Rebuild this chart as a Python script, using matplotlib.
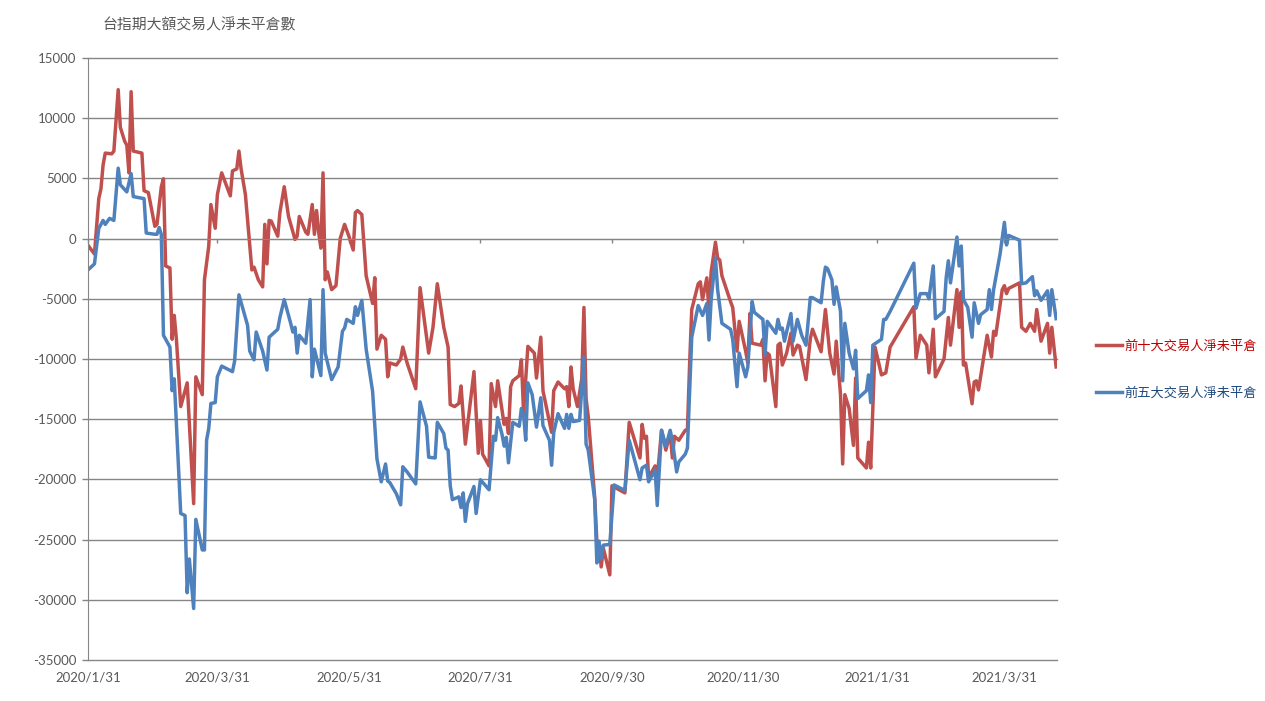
import numpy as np
import matplotlib
matplotlib.use('Agg')
import matplotlib.pyplot as plt
import matplotlib.dates as mdates

# 台指期 大額交易人 淨未平倉 (口)
title = '台指期大額交易人淨未平倉數'
red_label = '前十大交易人淨未平倉'
blue_label = '前五大交易人淨未平倉'

# x data: days after the first date
start = '2020-01-31'
x_tick_labels = ['2020/1/31', '2020/3/31', '2020/5/31', '2020/7/31',
                 '2020/9/30', '2020/11/30', '2021/1/31', '2021/3/31']
x_tick_dates = ['2020-01-31', '2020-03-31', '2020-05-31', '2020-07-31',
                '2020-09-30', '2020-11-30', '2021-01-31', '2021-03-31']
y_ticks = [15000, 10000, 5000, 0, -5000, -10000, -15000, -20000, -25000, -30000, -35000]

red_day = [0, 3, 5, 6, 7, 8, 11, 12, 14, 15, 17, 18, 19, 20, 21, 25, 26, 28, 31, 32,
           34, 35, 36, 38, 39, 40, 41, 43, 46, 49, 50, 53, 54, 56, 57, 59, 60, 62, 66, 67,
           69, 70, 71, 73, 75, 76, 77, 79, 81, 82, 83, 84, 85, 88, 89, 91, 93, 96, 97, 98,
           101, 102, 104, 105, 106, 107, 108, 109, 110, 111, 113, 115, 117, 119, 121, 123, 124, 125, 127, 129,
           132, 133, 134, 136, 138, 139, 140, 143, 145, 146, 148, 152, 154, 158, 160, 162, 165, 167, 168, 170,
           172, 173, 175, 179, 181, 182, 183, 186, 187, 189, 190, 193, 194, 195, 196, 197, 200, 201, 202, 204,
           207, 208, 210, 211, 215, 216, 218, 221, 222, 223, 224, 225, 227, 229, 230, 231, 232, 235, 236, 237,
           238, 239, 242, 243, 249, 251, 256, 257, 258, 259, 260, 263, 264, 266, 268, 270, 271, 272, 274, 277,
           278, 279, 280, 283, 284, 285, 287, 288, 289, 291, 292, 293, 294, 298, 299, 301, 302, 305, 306, 307,
           308, 312, 313, 314, 315, 316, 319, 320, 321, 322, 324, 326, 327, 329, 330, 333, 335, 336, 340, 342,
           344, 346, 347, 349, 350, 351, 353, 355, 356, 357, 361, 362, 363, 365, 368, 370, 372, 383, 384, 386,
           389, 390, 392, 393, 397, 399, 400, 403, 404, 405, 406, 407, 410, 411, 412, 413, 417, 419, 420, 421,
           424, 425, 426, 427, 432, 433, 435, 437, 439, 440, 442, 445, 446, 447, 449]
red_val = [-560, -1280, 3320, 4140, 6120, 7100, 7040, 7270, 12370, 9240, 8090, 7760, 5460, 12200, 7270, 7100, 3980, 3820, 1020, 1180,
           4310, 4970, -2270, -2440, -8360, -6380, -8360, -13950, -11980, -22010, -11480, -12960, -3420, -630, 2830, 860, 3650, 5460, 3550, 5620,
           5790, 7270, 5790, 3650, -460, -2600, -2370, -3420, -4010, 1180, -2100, 1510, 1450, 200, 2170, 4310, 1840, -70, 200, 1840,
           530, 360, 2830, 360, 2330, 500, -790, 5460, -3420, -2770, -4240, -3910, 30, 1180, 200, -950, 2170, 2330, 2000, -3090,
           -5390, -3250, -9180, -8030, -8360, -11480, -10330, -10500, -10000, -9010, -10330, -12470, -4080, -9510, -7370, -3750, -7370, -9010, -13780, -13950,
           -13690, -12240, -17070, -11050, -17830, -15100, -17900, -18880, -12040, -13950, -11810, -15430, -14940, -16190, -12300, -11810, -11380, -10070, -14440, -8950,
           -9510, -11580, -8190, -12630, -16090, -12630, -11910, -12470, -12300, -13950, -10660, -12470, -13950, -11640, -5720, -13290, -14770, -21510, -25130, -25300,
           -27270, -25720, -27930, -20530, -21120, -15260, -18220, -15430, -16580, -16420, -19870, -18880, -19900, -15920, -17570, -16090, -18220, -16420, -16750, -15920,
           -15920, -10500, -5890, -3750, -3590, -5070, -3260, -6050, -2770, -300, -1610, -1780, -3090, -5230, -5720, -9340, -6870, -9340, -10330, -6220,
           -8690, -8850, -8360, -11810, -9510, -9670, -13950, -8850, -8690, -10500, -9510, -7860, -9670, -8850, -8950, -11710, -8300, -7530, -9400, -5890,
           -9510, -11250, -8520, -12960, -18720, -12960, -14110, -17170, -11580, -18220, -19050, -16910, -19050, -9010, -11320, -11150, -9010, -5660, -9930, -8030,
           -8850, -11150, -7530, -11480, -10000, -6550, -8850, -4240, -7370, -4410, -10500, -10330, -13720, -11910, -11810, -12570, -8030, -9840, -7700, -8030,
           -4240, -3910, -4570, -4140, -3680, -7370, -7700, -7040, -7700, -5890, -8520, -7040, -9510, -7370, -10660]

blue_day = [0, 3, 5, 7, 8, 10, 12, 14, 15, 18, 20, 21, 24, 26, 27, 31, 32, 33, 34, 35,
            38, 39, 40, 43, 45, 46, 47, 49, 50, 53, 54, 55, 56, 57, 59, 60, 62, 67, 68, 70,
            74, 75, 77, 78, 81, 83, 84, 88, 89, 91, 94, 95, 96, 97, 98, 101, 103, 104, 105, 108,
            109, 110, 113, 116, 118, 119, 120, 123, 124, 125, 127, 129, 132, 134, 136, 138, 139, 140, 143, 145,
            146, 148, 152, 154, 157, 158, 161, 162, 165, 166, 167, 168, 169, 172, 173, 174, 175, 176, 179, 180,
            182, 186, 188, 189, 190, 192, 193, 194, 195, 197, 200, 201, 202, 203, 204, 206, 208, 210, 211, 214,
            215, 216, 218, 221, 222, 223, 224, 225, 228, 230, 231, 232, 235, 236, 237, 238, 239, 242, 244, 249,
            251, 256, 257, 259, 260, 263, 264, 266, 268, 270, 271, 273, 274, 277, 278, 280, 283, 285, 287, 288,
            289, 291, 292, 294, 298, 299, 301, 302, 305, 306, 308, 309, 313, 314, 315, 319, 320, 321, 322, 323,
            326, 327, 329, 331, 333, 335, 336, 340, 341, 342, 343, 345, 346, 347, 349, 350, 351, 353, 355, 356,
            357, 361, 362, 363, 364, 368, 369, 370, 372, 383, 384, 386, 389, 390, 392, 393, 397, 398, 399, 400,
            403, 404, 405, 406, 408, 410, 411, 413, 414, 417, 418, 419, 420, 423, 425, 426, 427, 432, 433, 435,
            438, 439, 440, 442, 445, 446, 447, 449]
blue_val = [-2600, -2100, 850, 1510, 1180, 1680, 1510, 5850, 4470, 3880, 5400, 3490, 3390, 3320, 460, 360, 360, 920, 360, -8030,
            -9010, -12630, -11650, -22830, -23000, -29410, -26610, -30720, -23320, -25860, -25860, -16740, -15760, -13690, -13620, -11480, -10590, -11050, -10170, -4670,
            -7200, -9340, -10070, -7760, -9340, -10920, -8190, -7530, -6550, -5070, -7040, -7760, -7370, -9510, -8030, -8690, -5070, -11480, -9180, -11380,
            -4240, -9510, -11710, -10660, -7700, -7430, -6710, -7040, -5660, -6380, -5130, -9180, -12700, -18290, -20200, -18720, -20130, -20270, -21190, -22110,
            -18950, -19380, -20370, -13560, -15590, -18160, -18220, -15260, -16190, -17400, -17570, -20530, -21680, -21450, -22340, -21120, -23490, -22010, -20590, -22830,
            -20030, -20860, -16420, -16750, -14870, -16250, -17240, -16510, -18620, -15260, -15590, -14110, -14600, -16750, -11980, -12960, -15660, -13220, -15530, -16750,
            -18820, -16090, -14540, -15760, -14600, -15760, -14600, -15200, -15100, -9840, -17070, -17570, -21680, -26940, -25130, -26610, -25460, -25400, -20460, -20920,
            -16750, -20030, -19050, -18820, -20200, -19210, -22170, -15920, -17240, -15920, -16750, -19380, -18550, -17900, -17400, -8190, -5560, -6380, -5390, -8420,
            -5070, -1610, -4240, -7040, -7530, -8360, -12300, -9510, -11480, -10660, -5230, -6120, -6710, -9670, -6870, -7860, -6710, -7530, -7430, -8520,
            -6220, -8520, -6710, -8030, -8850, -4900, -4900, -5330, -3590, -2370, -2500, -3420, -5460, -4010, -6050, -11810, -7040, -9510, -10820, -9280,
            -13290, -12630, -11320, -13620, -8850, -8360, -6710, -6710, -6050, -2040, -5790, -4570, -4570, -5000, -2270, -6650, -6050, -3260, -1840, -3680,
            130, -2270, -620, -5070, -5720, -8190, -5330, -7040, -6320, -5890, -4240, -5890, -4240, -1280, 1350, -530, 260, -130, -3750, -3680,
            -3160, -4740, -4340, -5130, -4340, -6380, -4240, -6650]

plt.rcParams['font.family'] = ['Lato', 'Noto Sans CJK TC', 'DejaVu Sans']
cjk = ['Noto Sans CJK TC', 'DejaVu Sans']
grey = '#868686'
text_grey = '#595959'

fig = plt.figure(figsize=(12.65, 7.01), dpi=100)
ax = fig.add_axes([88 / 1265, 1 - 660 / 701, (1057 - 88) / 1265, (660 - 58) / 701])

t0 = np.datetime64(start)
red_dates = t0 + np.array(red_day).astype('timedelta64[D]')
blue_dates = t0 + np.array(blue_day).astype('timedelta64[D]')

ax.plot(red_dates, red_val, color='#C0504D', lw=2.5, label=red_label, solid_joinstyle='round')
ax.plot(blue_dates, blue_val, color='#4F81BD', lw=2.5, label=blue_label, solid_joinstyle='round')

x0 = mdates.date2num(t0)
ax.set_xlim(x0, x0 + 449.4)
ax.set_ylim(-35000, 15000)

ax.set_yticks(y_ticks)
ax.set_yticklabels([str(v) for v in y_ticks])
ax.yaxis.grid(True, color=grey, lw=1)
for gl in ax.get_ygridlines():
    gl.set_clip_on(False)
ax.set_axisbelow(True)
ax.tick_params(axis='y', direction='out', length=4.3, width=1, color=grey,
               labelcolor=text_grey, labelsize=9.5, pad=4)

for s in ['top', 'right']:
    ax.spines[s].set_visible(False)
ax.spines['left'].set_color(grey)
ax.spines['bottom'].set_color(grey)
ax.spines['bottom'].set_position(('data', 0))

tick_nums = mdates.date2num([np.datetime64(d) for d in x_tick_dates])
ax.set_xticks(tick_nums)
ax.tick_params(axis='x', direction='out', length=3, width=1, color=grey, labelbottom=False)

sec = ax.secondary_xaxis(0)
sec.set_xticks(tick_nums)
sec.set_xticklabels(x_tick_labels)
sec.tick_params(length=0, labelcolor=text_grey, labelsize=9.5, pad=8)
sec.spines['bottom'].set_visible(False)

fig.text(103 / 1265, 1 - 25 / 701, title, ha='left', va='center', fontsize=10.7,
         color=text_grey, family=cjk)

leg = ax.legend(loc='upper left', bbox_to_anchor=(1089 / 1265, 1 - 333 / 701),
                bbox_transform=fig.transFigure, frameon=False, borderpad=0,
                handlelength=2.0, handletextpad=0.15, labelspacing=2.6,
                prop={'family': cjk, 'size': 9.5})
for txt, c in zip(leg.get_texts(), ['#C00000', '#1F497D']):
    txt.set_color(c)

fig.savefig('out.png', dpi=100)
